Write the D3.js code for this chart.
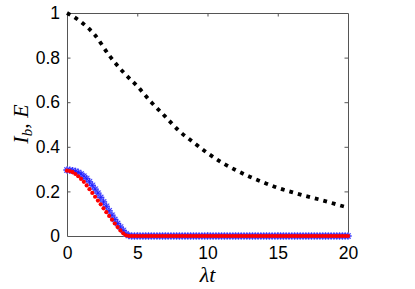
<!DOCTYPE html>
<html><head><meta charset="utf-8">
<script src="https://cdn.jsdelivr.net/npm/d3@7"></script>
<style>
html,body{margin:0;padding:0;background:#fff;}
svg{display:block;}
.tick text{font-family:"Liberation Sans",Arial,sans-serif;}
</style></head>
<body><svg id="chart" width="415" height="289"></svg>
<script>
// ---- data ----
const blackT = [0,1,2,3,4,5,6,7,8,9,10,11,12,13,14,15,16,17,18,19,20];
const blackIb = [1.0,0.96,0.90,0.81,0.735,0.672,0.60,0.535,0.47,0.42,0.372,0.33,0.296,0.266,0.24,0.216,0.197,0.179,0.163,0.145,0.127];
const timeStep = 0.2;
const redE = [0.293,0.291,0.286,0.278,0.268,0.256,0.243,0.227,0.210,0.193,0.176,0.159,0.142,0.124,0.107,0.090,0.073,0.056,0.040,0.025,0.012,0.003,0,
  0,0,0,0,0,0,0,0,0,0,0,0,0,
  0,0,0,0,0,0,0,0,0,0,0,0,0,
  0,0,0,0,0,0,0,0,0,0,0,0,0,
  0,0,0,0,0,0,0,0,0,0,0,0,0,
  0,0,0,0,0,0,0,0,0,0,0,0,0,
  0,0,0,0,0,0,0,0,0,0,0,0,0];
const blueE = [0.296,0.295,0.293,0.290,0.285,0.278,0.268,0.257,0.243,0.227,0.210,0.192,0.173,0.153,0.133,0.113,0.093,0.074,0.056,0.040,0.025,0.010,0.002,
  0,0,0,0,0,0,0,0,0,0,0,0,0,
  0,0,0,0,0,0,0,0,0,0,0,0,0,
  0,0,0,0,0,0,0,0,0,0,0,0,0,
  0,0,0,0,0,0,0,0,0,0,0,0,0,
  0,0,0,0,0,0,0,0,0,0,0,0,0,
  0,0,0,0,0,0,0,0,0,0,0,0,0];
const xTicks = [0,5,10,15,20];
const yTicks = [0,0.2,0.4,0.6,0.8,1];
const yTickLabels = ["0","0.2","0.4","0.6","0.8","1"];

// ---- layout ----
const W = 415, H = 289;
const m = {left:67, right:67, top:13, bottom:53};
const svg = d3.select("#chart");
const x = d3.scaleLinear().domain([0,20]).range([m.left, W-m.right]);
const y = d3.scaleLinear().domain([0,1]).range([H-m.bottom, m.top]);
const axisColor = "#555";
const fs = "17.5px";

// axes
const gB = svg.append("g").attr("transform",`translate(0,${H-m.bottom})`)
  .call(d3.axisBottom(x).tickValues(xTicks).tickSizeInner(-3.5).tickSizeOuter(0).tickPadding(7));
const gT = svg.append("g").attr("transform",`translate(0,${m.top})`)
  .call(d3.axisTop(x).tickValues(xTicks).tickSizeInner(-3.5).tickSizeOuter(0).tickFormat(""));
const gL = svg.append("g").attr("transform",`translate(${m.left},0)`)
  .call(d3.axisLeft(y).tickValues(yTicks).tickSizeInner(-3.5).tickSizeOuter(0).tickPadding(7)
        .tickFormat((d,i)=>yTickLabels[i]));
const gR = svg.append("g").attr("transform",`translate(${W-m.right},0)`)
  .call(d3.axisRight(y).tickValues(yTicks).tickSizeInner(-3.5).tickSizeOuter(0).tickFormat(""));
[gB,gT,gL,gR].forEach(g=>{
  g.select(".domain").attr("stroke",axisColor).attr("stroke-width",1);
  g.selectAll(".tick line").attr("stroke",axisColor);
  g.selectAll(".tick text").attr("fill","#000").style("font-size",fs);
});
gB.selectAll(".tick text").attr("dy","0.9em");
// hide ticks at the ends (box corners)
[gB,gT].forEach(g=>g.selectAll(".tick line").filter(d=>d===0||d===20).remove());
[gL,gR].forEach(g=>g.selectAll(".tick line").filter(d=>d===0||d===1).remove());

// blue asterisks (under red)
const t = d3.range(blueE.length).map(i => +(i*timeStep).toFixed(2));
const s = 3.6, sd = s*0.72;
const ast = `M${-s},0L${s},0M0,${-s}L0,${s}M${-sd},${-sd}L${sd},${sd}M${-sd},${sd}L${sd},${-sd}`;
const blueG = svg.append("g");
blueG.selectAll("path.halo").data(blueE).join("path")
  .attr("d",ast).attr("transform",(d,i)=>`translate(${x(t[i])},${y(d)})`)
  .attr("stroke","#9a9aff").attr("stroke-width",1.8).attr("fill","none");
blueG.selectAll("path.core").data(blueE).join("path")
  .attr("d",ast).attr("transform",(d,i)=>`translate(${x(t[i])},${y(d)})`)
  .attr("stroke","#1a1aff").attr("stroke-width",0.8).attr("fill","none");

// red dots
svg.append("g").selectAll("circle").data(redE).join("circle")
  .attr("cx",(d,i)=>x(t[i])).attr("cy",d=>y(d)).attr("r",2.1).attr("fill","#ff0000");

// black dotted line
const line = d3.line().x((d,i)=>x(blackT[i])).y(d=>y(d)).curve(d3.curveMonotoneX);
svg.append("path").datum(blackIb).attr("d",line)
  .attr("fill","none").attr("stroke","#000").attr("stroke-width",3.8)
  .attr("stroke-dasharray","3.8,5");

// axis labels
svg.append("text").attr("x",x(10)).attr("y",282).attr("text-anchor","middle")
  .style("font-family","'Liberation Serif','Times New Roman',serif").style("font-style","italic")
  .style("font-size","22px").text("λt");
const yl = svg.append("text").attr("transform",`translate(28,124) rotate(-90)`).attr("text-anchor","middle")
  .style("font-family","'Liberation Serif','Times New Roman',serif").style("font-size","22px");
yl.append("tspan").style("font-style","italic").text("I");
yl.append("tspan").style("font-style","italic").style("font-size","15px").attr("dy","4").text("b");
yl.append("tspan").attr("dy","-4").text(", ");
yl.append("tspan").style("font-style","italic").text("E");
</script></body></html>
